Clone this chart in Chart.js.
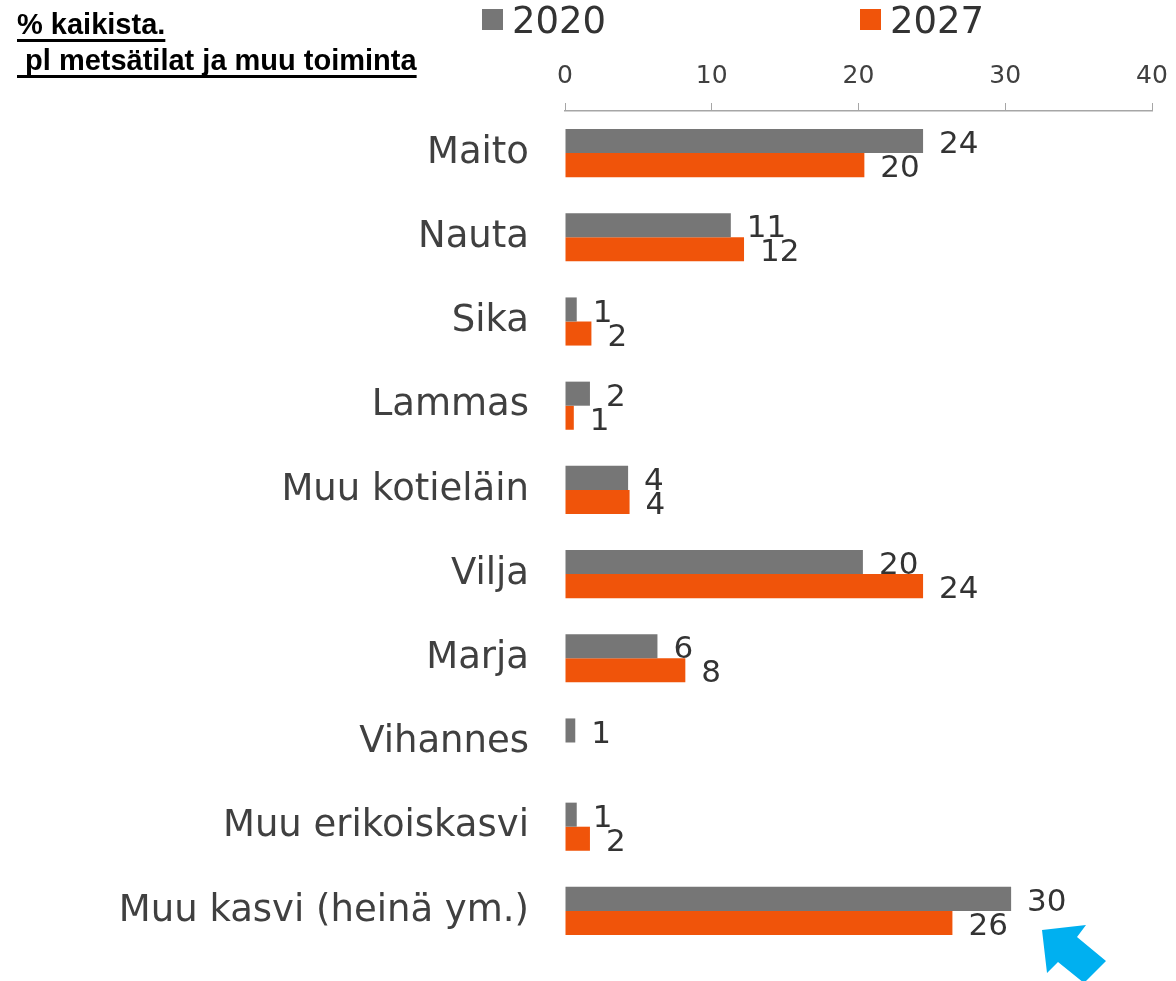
<!DOCTYPE html>
<html>
<head>
<meta charset="utf-8">
<script src="https://cdn.jsdelivr.net/npm/chart.js@4/dist/chart.umd.min.js"></script>
<style>
    body { margin: 0; background: #fff; }
    #wrap { position: relative; width: 1176px; height: 981px; }
    #chart { position: absolute; left: 0; top: 0; }
    .title { position: absolute; left: 17px; font: bold 29px 'Liberation Sans', Arial, sans-serif; color: #000; text-decoration: underline; text-decoration-thickness: 3px; text-underline-offset: 5px; text-decoration-skip-ink: none; white-space: pre; }
    .leg-box { position: absolute; top: 9px; width: 21px; height: 21px; }
    .leg-text { position: absolute; top: 2px; font: 37px/37px 'DejaVu Sans', sans-serif; color: #333; }
</style>
</head>
<body>
<div id="wrap">
    <canvas id="chart" width="1176" height="981"></canvas>
    <div class="title" style="top: 8px;">% kaikista.</div>
    <div class="title" style="top: 44px;"> pl metsätilat ja muu toiminta</div>
    <div class="leg-box" style="left: 482px; background: #767676;"></div>
    <div class="leg-text" style="left: 512px;">2020</div>
    <div class="leg-box" style="left: 860px; background: #f0540a;"></div>
    <div class="leg-text" style="left: 890px;">2027</div>
</div>
<script>
    // --- DATA ---
    const categories = ['Maito', 'Nauta', 'Sika', 'Lammas', 'Muu kotieläin', 'Vilja', 'Marja', 'Vihannes', 'Muu erikoiskasvi', 'Muu kasvi (heinä ym.)'];
    const values2020 = [24.4, 11.3, 0.8, 1.7, 4.3, 20.3, 6.3, 0.7, 0.8, 30.4];
    const values2027 = [20.4, 12.2, 1.8, 0.6, 4.4, 24.4, 8.2, null, 1.7, 26.4];
    const xTicks = [0, 10, 20, 30, 40];

    const GRAY = '#767676';
    const ORANGE = '#f0540a';
    const AXIS = '#a6a6a6';

    // value labels at the end of each bar
    const barLabels = {
        id: 'barLabels',
        afterDatasetsDraw(chart) {
            const ctx = chart.ctx;
            ctx.save();
            ctx.font = '31px "DejaVu Sans", sans-serif';
            ctx.fillStyle = '#333';
            ctx.textAlign = 'left';
            ctx.textBaseline = 'middle';
            chart.data.datasets.forEach((ds, di) => {
                chart.getDatasetMeta(di).data.forEach((bar, i) => {
                    const v = ds.data[i];
                    if (v === null) return;
                    ctx.fillText(String(Math.round(v)), bar.x + 16, bar.y + 4);
                });
            });
            ctx.restore();
        }
    };

    // blue arrow pointing at the last category
    const arrow = {
        id: 'arrow',
        afterDraw(chart) {
            const ctx = chart.ctx;
            const pts = [[1042, 930], [1086, 925], [1077, 937], [1106, 961], [1084, 983], [1058, 962], [1047, 973]];
            ctx.save();
            ctx.fillStyle = '#00b0f0';
            ctx.beginPath();
            pts.forEach((p, i) => i === 0 ? ctx.moveTo(p[0], p[1]) : ctx.lineTo(p[0], p[1]));
            ctx.closePath();
            ctx.fill();
            ctx.restore();
        }
    };

    new Chart(document.getElementById('chart'), {
        type: 'bar',
        data: {
            labels: categories,
            datasets: [
                { label: '2020', data: values2020, backgroundColor: GRAY },
                { label: '2027', data: values2027, backgroundColor: ORANGE }
            ]
        },
        options: {
            indexAxis: 'y',
            responsive: false,
            animation: false,
            events: [],
            categoryPercentage: 48 / 84,
            barPercentage: 1,
            layout: { padding: { top: 0, right: 24, bottom: 28, left: 0 } },
            plugins: { legend: { display: false }, tooltip: { enabled: false } },
            scales: {
                x: {
                    position: 'top',
                    min: 0,
                    max: 40,
                    afterBuildTicks: scale => { scale.ticks = xTicks.map(v => ({ value: v })); },
                    afterFit: scale => { scale.height = 111; scale.paddingRight = 0; },
                    grid: { drawOnChartArea: false, drawTicks: true, tickLength: 8, color: AXIS },
                    border: { color: AXIS, width: 1.5 },
                    ticks: { color: '#404040', font: { family: 'DejaVu Sans', size: 25 }, padding: 12 }
                },
                y: {
                    afterFit: scale => { scale.width = 565; scale.paddingTop = 0; scale.paddingBottom = 0; },
                    grid: { display: false },
                    border: { display: false },
                    ticks: { color: '#404040', font: { family: 'DejaVu Sans', size: 37 }, padding: 28 }
                }
            }
        },
        plugins: [barLabels, arrow]
    });
</script>
</body>
</html>
